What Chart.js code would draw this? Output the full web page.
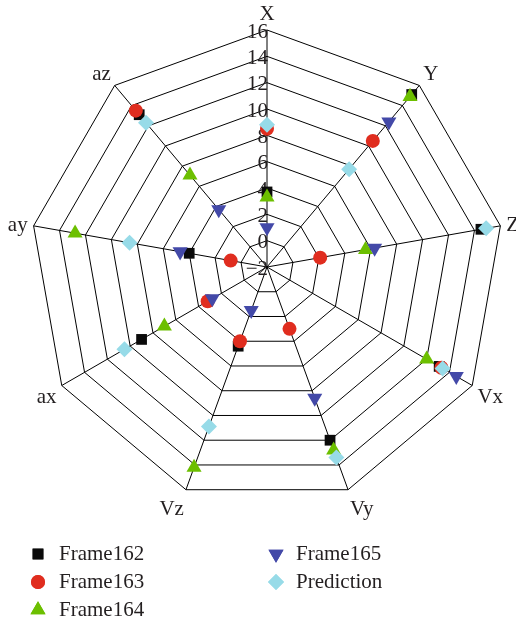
<!DOCTYPE html>
<html>
<head>
<meta charset="utf-8">
<style>
  html, body { margin: 0; padding: 0; background: #fff; }
  #wrap { width: 516px; height: 625px; }
</style>
<script src="https://cdn.jsdelivr.net/npm/chart.js@4/dist/chart.umd.min.js"></script>
</head>
<body>
<div id="wrap"><canvas id="radar" width="516" height="625"></canvas></div>
<script>
// Axis categories and ring values
const categories = ['X', 'Y', 'Z', 'Vx', 'Vy', 'Vz', 'ax', 'ay', 'az'];
const tickValues = [-2, 0, 2, 4, 6, 8, 10, 12, 14, 16];

// Series values, one per axis
const frame162   = [3.7, 15.1, 14.5, 13.1, 12.0, 4.4, 9.0, 4.0, 13.1];
const frame163   = [8.5, 10.5, 2.1, 13.3, 3.0, 4.0, 3.2, 0.8, 13.5];
const frame164   = [3.3, 14.9, 5.6, 12.0, 12.8, 14.2, 7.0, 12.8, 7.1];
const frame165   = [1.0, 12.4, 6.3, 14.6, 8.6, 1.5, 2.8, 4.7, 3.7];
const prediction = [8.8, 7.7, 14.9, 13.4, 13.4, 10.9, 10.5, 8.6, 12.3];

const seriesNames = ['Frame162', 'Frame163', 'Frame164', 'Frame165', 'Prediction'];

const FONT = '"Liberation Serif", "DejaVu Serif", serif';
const TEXT = '#231f20';

const styles = [
  { color: '#0a0a0a', pointStyle: 'rect',     radius: 7.6, rotation: 0 },
  { color: '#e02d1f', pointStyle: 'circle',   radius: 7,   rotation: 0 },
  { color: '#6cbf00', pointStyle: 'triangle', radius: 8.7, rotation: 0 },
  { color: '#4349a8', pointStyle: 'triangle', radius: 8.7, rotation: 180 },
  { color: '#97dbe8', pointStyle: 'rectRot',  radius: 8,   rotation: 0 }
];

const seriesValues = [frame162, frame163, frame164, frame165, prediction];

const datasets = seriesValues.map((vals, i) => ({
  label: seriesNames[i],
  data: vals,
  showLine: false,
  fill: false,
  // later series sit on top of earlier ones
  order: seriesValues.length - i,
  pointStyle: styles[i].pointStyle,
  pointRotation: styles[i].rotation,
  pointRadius: styles[i].radius,
  pointHoverRadius: styles[i].radius,
  pointBackgroundColor: styles[i].color,
  pointBorderColor: styles[i].color,
  pointBorderWidth: 0,
  borderWidth: 0
}));

// Ring numbers and axis names, drawn under the markers
const axisText = {
  id: 'axisText',
  beforeDatasetsDraw(chart) {
    const r = chart.scales.r;
    const ctx = chart.ctx;
    ctx.save();
    ctx.font = '21px ' + FONT;
    ctx.fillStyle = TEXT;

    // ring values along the X axis
    ctx.textAlign = 'right';
    ctx.textBaseline = 'middle';
    tickValues.forEach(v => {
      const d = r.getDistanceFromCenterForValue(v);
      ctx.fillText(String(v).replace('-', '\u2212'), r.xCenter + 1, r.yCenter - d + 2);
    });

    // axis names just outside the outer ring
    categories.forEach((name, i) => {
      const p = r.getPointPosition(i, r.drawingArea + 6);
      const ux = Math.cos(p.angle), uy = Math.sin(p.angle);
      ctx.textAlign = ux > 0.1 ? 'left' : (ux < -0.1 ? 'right' : 'center');
      ctx.fillText(name, p.x, p.y + uy * 12.2 + 3);
    });
    ctx.restore();
  }
};

// Two-column key below the plot
const keyBlock = {
  id: 'keyBlock',
  afterDraw(chart) {
    const ctx = chart.ctx;
    const cols = [{ mark: 38, text: 59 }, { mark: 276, text: 296 }];
    const rows = [554, 582, 610];
    const slots = [[0, 0], [0, 1], [0, 2], [1, 0], [1, 1]];
    ctx.save();
    chart.data.datasets.forEach((ds, i) => {
      const [c, rr] = slots[i];
      const y = rows[rr];
      ctx.fillStyle = ds.pointBackgroundColor;
      Chart.helpers.drawPoint(ctx, {
        pointStyle: ds.pointStyle,
        rotation: ds.pointRotation,
        radius: ds.pointRadius,
        borderWidth: 0
      }, cols[c].mark, y);
      ctx.fill();
      ctx.fillStyle = TEXT;
      ctx.font = '21px ' + FONT;
      ctx.textAlign = 'left';
      ctx.textBaseline = 'middle';
      ctx.fillText(ds.label, cols[c].text, y);
    });
    ctx.restore();
  }
};

new Chart(document.getElementById('radar'), {
  type: 'radar',
  data: { labels: categories, datasets },
  options: {
    responsive: false,
    animation: false,
    devicePixelRatio: 1,
    layout: { padding: { left: 30, right: 11, top: 30, bottom: 120 } },
    plugins: {
      legend: { display: false },
      tooltip: { enabled: false }
    },
    elements: { line: { borderWidth: 0 } },
    scales: {
      r: {
        min: -2,
        max: 16,
        ticks: { display: false, stepSize: 2 },
        pointLabels: { display: false },
        grid: { color: '#000', lineWidth: 1 },
        angleLines: { color: '#000', lineWidth: 1 }
      }
    }
  },
  plugins: [axisText, keyBlock]
});
</script>
</body>
</html>
